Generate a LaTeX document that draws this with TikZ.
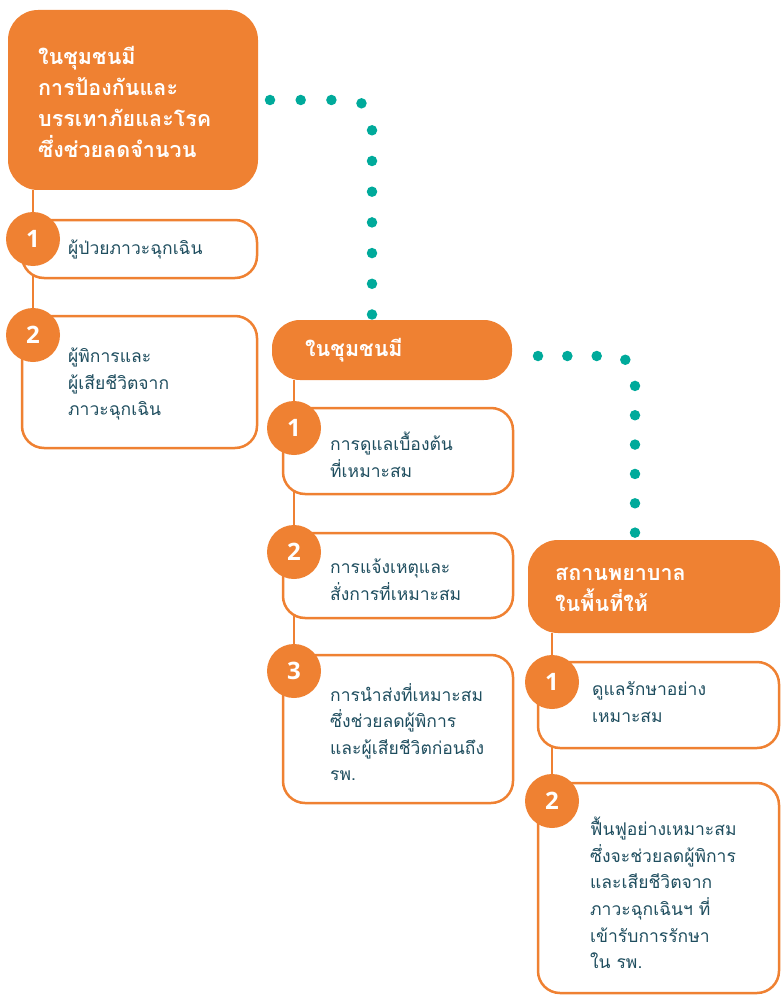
\documentclass[tikz,border=0pt]{standalone}
\usepackage{fontspec}
\newfontfamily\thai[Script=Thai]{Loma}
\newfontfamily\numfont{Open Sans}
\usetikzlibrary{backgrounds}
\definecolor{orng}{RGB}{239,129,50}
\definecolor{tealdot}{RGB}{0,170,155}
\definecolor{ink}{RGB}{31,78,95}
\tikzset{
  head/.style={rectangle, rounded corners=30pt, fill=orng, draw=none, inner sep=0pt},
  item/.style={rectangle, rounded corners=22pt, fill=white, draw=orng, line width=2.5pt, inner sep=0pt},
  num/.style={circle, fill=orng, draw=none, minimum size=54pt, inner sep=0pt, text=white, font=\numfont\bfseries\fontsize{24}{24}\selectfont},
  headtxt/.style={anchor=west, align=left, inner sep=0pt, text=white, font=\thai\bfseries\fontsize{21.5}{31}\selectfont},
  bodytxt/.style={anchor=west, align=left, inner sep=0pt, text=ink, font=\thai\fontsize{17.5}{26.6}\selectfont},
  spine/.style={draw=orng, line width=2.5pt},
  dots/.style={draw=tealdot, line width=10.5pt, line cap=round, rounded corners=22pt}
}
\begin{document}
\begin{tikzpicture}[x=1pt,y=-1pt]
\useasboundingbox (0,0) rectangle (780,995);
% column A
\node[head, minimum width=250pt, minimum height=180pt] (Ahead) at (133,100) {};
\node[headtxt] (Ahtxt) at (38,102) {ในชุมชนมี\\การป้องกันและ\\บรรเทาภัยและโรค\\ซึ่งช่วยลดจำนวน};
\node[item, minimum width=235pt, minimum height=58pt] (A1) at (139.5,249) {};
\node[bodytxt] (A1t) at (68,249) {ผู้ป่วยภาวะฉุกเฉิน};
\node[item, minimum width=235pt, minimum height=132pt] (A2) at (139.5,382) {};
\node[bodytxt] (A2t) at (68,384) {ผู้พิการและ\\ผู้เสียชีวิตจาก\\ภาวะฉุกเฉิน};
\node[num] (An1) at (33,239) {1};
\node[num] (An2) at (33,335) {2};
% column B
\node[head, rounded corners=28pt, minimum width=240pt, minimum height=60pt] (Bhead) at (392,350) {};
\node[headtxt] (Bhtxt) at (305,350) {ในชุมชนมี};
\node[item, minimum width=230pt, minimum height=86pt] (B1) at (398,451) {};
\node[bodytxt] (B1t) at (330,455) {การดูแลเบื้องต้น\\ที่เหมาะสม};
\node[item, minimum width=230pt, minimum height=85pt] (B2) at (398,575.5) {};
\node[bodytxt] (B2t) at (330,580) {การแจ้งเหตุและ\\สั่งการที่เหมาะสม};
\node[item, minimum width=230pt, minimum height=148pt] (B3) at (398,729) {};
\node[bodytxt] (B3t) at (330,732) {การนำส่งที่เหมาะสม\\ซึ่งช่วยลดผู้พิการ\\และผู้เสียชีวิตก่อนถึง\\รพ.};
\node[num] (Bn1) at (294,428) {1};
\node[num] (Bn2) at (294,552) {2};
\node[num] (Bn3) at (294,671) {3};
% column C
\node[head, minimum width=252pt, minimum height=93pt] (Chead) at (654,586.5) {};
\node[headtxt] (Chtxt) at (555,590) {สถานพยาบาล\\ในพื้นที่ให้};
\node[item, minimum width=241pt, minimum height=86pt] (C1) at (658.5,705) {};
\node[bodytxt] (C1t) at (592,702) {ดูแลรักษาอย่าง\\เหมาะสม};
\node[item, minimum width=241pt, minimum height=210pt] (C2) at (658.5,888) {};
\node[bodytxt] (C2t) at (590,893) {ฟื้นฟูอย่างเหมาะสม\\ซึ่งจะช่วยลดผู้พิการ\\และเสียชีวิตจาก\\ภาวะฉุกเฉินฯ ที่\\เข้ารับการรักษา\\ใน รพ.};
\node[num] (Cn1) at (552,682) {1};
\node[num] (Cn2) at (552,801) {2};
% spines
\begin{scope}[on background layer]
\draw[spine] (Ahead.south -| An2) -- (An2);
\draw[spine] (Bhead.south -| Bn3) -- (Bn3);
\draw[spine] (Chead.south -| Cn2) -- (Cn2);
\end{scope}
% dotted connectors
\coordinate (d1s) at (270,100);
\coordinate (d1e) at (372,315);
\coordinate (d2s) at (538,356);
\coordinate (d2e) at (635,533);
\draw[dots, dash pattern=on 0pt off 30.7pt] (d1s) -| (d1e);
\draw[dots, dash pattern=on 0pt off 29.35pt] (d2s) -| (d2e);
\end{tikzpicture}
\end{document}
